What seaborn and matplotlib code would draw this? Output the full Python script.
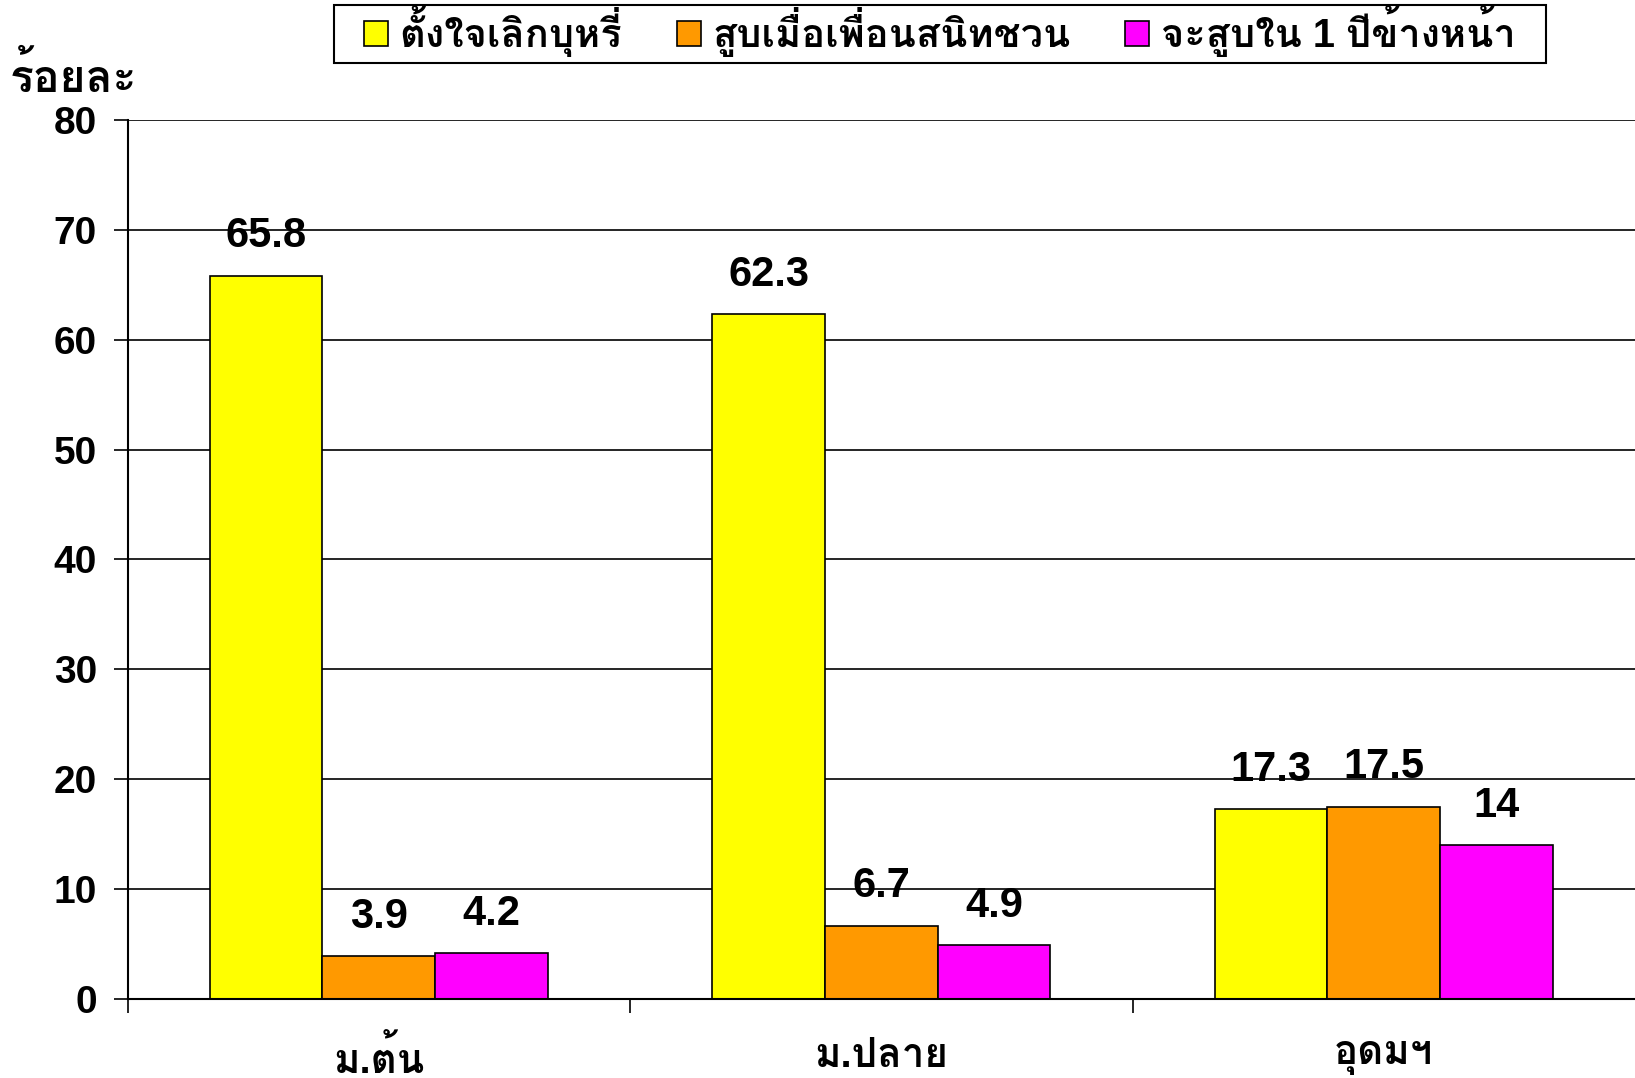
import pandas as pd
import matplotlib
matplotlib.use("Agg")
import matplotlib.pyplot as plt
import seaborn as sns
from matplotlib import font_manager
from matplotlib.ft2font import FT2Font
from matplotlib.ticker import FixedLocator
from matplotlib.patches import Rectangle

# ข้อมูล
categories = ["ม.ต้น", "ม.ปลาย", "อุดมฯ"]
series = ["ตั้งใจเลิกบุหรี่", "สูบเมื่อเพื่อนสนิทชวน", "จะสูบใน 1 ปีข้างหน้า"]
quit_vals = [65.8, 62.3, 17.3]
friend_vals = [3.9, 6.7, 17.5]
next_year_vals = [4.2, 4.9, 14]
value_labels = [["65.8", "62.3", "17.3"], ["3.9", "6.7", "17.5"], ["4.2", "4.9", "14"]]
y_ticks = [0, 10, 20, 30, 40, 50, 60, 70, 80]

colors = ["#FFFF00", "#FF9900", "#FF00FF"]


def find_thai_fonts():
    # หาฟอนต์ที่มีตัวอักษรไทย
    found = []
    for f in font_manager.fontManager.ttflist:
        try:
            cmap = FT2Font(f.fname).get_charmap()
        except Exception:
            continue
        if 0x0E01 in cmap and f.name not in found:
            found.append(f.name)
    return found


thai_fonts = find_thai_fonts()

sns.set_style("white")
plt.rcParams["font.family"] = ["Liberation Sans"] + thai_fonts + ["DejaVu Sans"]
plt.rcParams["font.weight"] = "bold"
for k in ["text.color", "axes.labelcolor", "xtick.color", "ytick.color", "axes.edgecolor"]:
    plt.rcParams[k] = "black"

rows = []
for s, vals in zip(series, [quit_vals, friend_vals, next_year_vals]):
    for c, v in zip(categories, vals):
        rows.append({"cat": c, "series": s, "value": v})
df = pd.DataFrame(rows)

fig = plt.figure(figsize=(16.35, 10.78), dpi=100)
ax = fig.add_axes([0.078, 0.073, 0.922, 0.816])

sns.barplot(data=df, x="cat", y="value", hue="series", palette=colors, saturation=1,
            width=0.672, edgecolor="black", linewidth=1.2, ax=ax, legend=True)

ax.set_ylim(0, 80)
ax.set_xlim(-0.5, 2.5)
ax.yaxis.grid(True, color="black", linewidth=1.2)
ax.set_axisbelow(True)
for side in ["top", "right"]:
    ax.spines[side].set_visible(False)
ax.spines["left"].set_linewidth(1.5)
ax.spines["bottom"].set_linewidth(1.5)

ax.set_yticks(y_ticks)
ax.set_yticklabels([str(t) for t in y_ticks], fontsize=28, fontweight="bold")
ax.tick_params(axis="y", length=10, width=1.2, direction="out", left=True, pad=12)
ax.xaxis.set_minor_locator(FixedLocator([-0.5, 0.5, 1.5]))
ax.tick_params(axis="x", which="minor", length=10, width=1.2, direction="out", bottom=True)
ax.tick_params(axis="x", which="major", length=0, pad=27, labelsize=29)
for lab in ax.get_xticklabels():
    lab.set_fontweight("bold")
ax.set_xlabel("")
ax.set_ylabel("")

fig.text(0.006, 0.928, "ร้อยละ", fontsize=32, fontweight="bold", ha="left", va="center")

for cont, labs in zip(ax.containers, value_labels):
    ax.bar_label(cont, labels=labs, padding=14, fontsize=30, fontweight="bold")

handles, labels = ax.get_legend_handles_labels()
ax.get_legend().remove()
leg = fig.legend(handles, labels, loc="center left", bbox_to_anchor=(0.2226, 0.971), ncol=3,
                 borderaxespad=0, borderpad=0, frameon=False, fontsize=28.6,
                 handlelength=0.6, handleheight=0.6, handletextpad=0.29, columnspacing=1.38)
for t in leg.get_texts():
    t.set_fontweight("bold")

# กรอบของ legend
fig.add_artist(Rectangle((334 / 1635, 1 - 63 / 1078), (1546 - 334) / 1635, 58 / 1078,
                         transform=fig.transFigure, fill=False, edgecolor="black", linewidth=1.5))

fig.savefig("out.png", dpi=100)
